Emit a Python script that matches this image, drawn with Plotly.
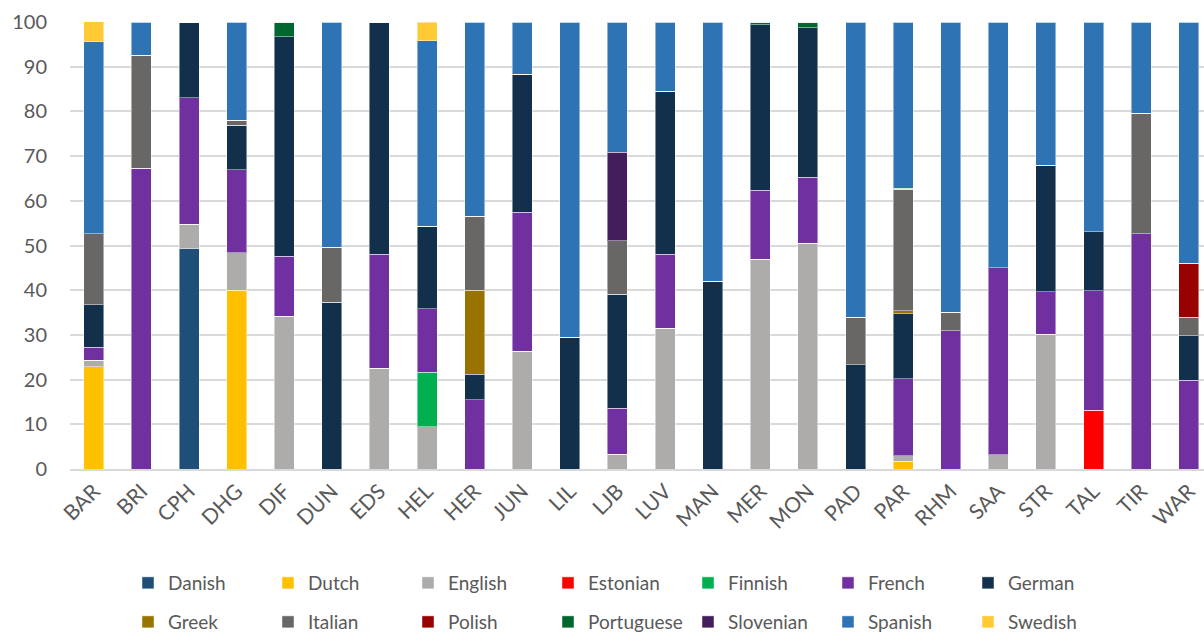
import plotly.graph_objects as go

sites = ["BAR","BRI","CPH","DHG","DIF","DUN","EDS","HEL","HER","JUN","LIL","LJB","LUV",
         "MAN","MER","MON","PAD","PAR","RHM","SAA","STR","TAL","TIR","WAR"]

danish     = [0,0,49.3,0,0,0,0,0,0,0,0,0,0,0,0,0,0,0,0,0,0,0,0,0]
dutch      = [22.9,0,0,40.0,0,0,0,0,0,0,0,0,0,0,0,0,0,1.7,0,0,0,0,0,0]
english    = [1.4,0,5.5,8.4,34.2,0,22.5,9.4,0,26.3,0,3.3,31.5,0,46.9,50.5,0,1.3,0,3.2,30.1,0,0,0]
estonian   = [0,0,0,0,0,0,0,0,0,0,0,0,0,0,0,0,0,0,0,0,0,13.2,0,0]
finnish    = [0,0,0,0,0,0,0,12.2,0,0,0,0,0,0,0,0,0,0,0,0,0,0,0,0]
french     = [2.9,67.3,28.2,18.5,13.4,0,25.5,14.3,15.5,31.1,0,10.3,16.5,0,15.5,14.8,0,17.2,30.9,41.8,9.6,26.7,52.6,19.9]
german     = [9.6,0,17.0,10.0,49.1,37.3,52.0,18.4,5.7,30.9,29.5,25.5,36.5,42.0,37.0,33.4,23.3,14.5,0,0,28.2,13.2,0,9.9]
greek      = [0,0,0,0,0,0,0,0,18.8,0,0,0,0,0,0,0,0,0.7,0,0,0,0,0,0]
italian    = [15.8,25.3,0,1.1,0,12.3,0,0,16.6,0,0,12.0,0,0,0,0,10.6,27.2,4.2,0,0,0,27.0,4.1]
polish     = [0,0,0,0,0,0,0,0,0,0,0,0,0,0,0,0,0,0,0,0,0,0,0,12.1]
portuguese = [0,0,0,0,3.3,0,0,0,0,0,0,0,0,0,0.6,1.3,0,0.2,0,0,0,0,0,0]
slovenian  = [0,0,0,0,0,0,0,0,0,0,0,19.8,0,0,0,0,0,0,0,0,0,0,0,0]
spanish    = [43.0,7.4,0,22.0,0,50.4,0,41.5,43.4,11.7,70.5,29.1,15.5,58.0,0,0,66.1,37.2,64.9,55.0,32.1,46.9,20.4,54.0]
swedish    = [4.5,0,0,0,0,0,0,4.2,0,0,0,0,0,0,0,0,0,0,0,0,0,0,0,0]

series = [
    ("Danish", danish, "#1F4E79"),
    ("Dutch", dutch, "#FFC000"),
    ("English", english, "#ADACAB"),
    ("Estonian", estonian, "#FF0000"),
    ("Finnish", finnish, "#00B050"),
    ("French", french, "#7030A0"),
    ("German", german, "#12304B"),
    ("Greek", greek, "#997300"),
    ("Italian", italian, "#686766"),
    ("Polish", polish, "#990000"),
    ("Portuguese", portuguese, "#00682F"),
    ("Slovenian", slovenian, "#441D5C"),
    ("Spanish", spanish, "#2E74B5"),
    ("Swedish", swedish, "#FFCA33"),
]

FONT = "Lato, 'Open Sans', sans-serif"
L, PW, T, PH = 70, 1134, 22, 448

fig = go.Figure()
legends = {}
for i, (name, vals, col) in enumerate(series):
    key = "legend" if i == 0 else f"legend{i + 1}"
    fig.add_trace(go.Bar(
        name=name, x=sites, y=vals,
        marker=dict(color=col, line=dict(color="rgba(255,255,255,0.45)", width=1)),
        legend=key,
    ))
    row, colidx = divmod(i, 7)
    px_x = 128 + 140 * colidx
    px_y = 583 if row == 0 else 623
    legends[key] = dict(
        x=(px_x - L) / PW, y=(T + PH - px_y) / PH,
        xanchor="left", yanchor="middle", orientation="h",
        font=dict(family=FONT, size=19, color="#595959"),
        itemwidth=30, bgcolor="rgba(0,0,0,0)", borderwidth=0,
    )

fig.update_layout(
    width=1204, height=641,
    barmode="stack", bargap=0.58,
    paper_bgcolor="white", plot_bgcolor="white",
    margin=dict(l=L, r=0, t=T, b=641 - T - PH),
    showlegend=True,
    xaxis=dict(range=[-0.5, 23.32], tickangle=-45, automargin=False,
               tickfont=dict(family=FONT, size=21, color="#595959"),
               showgrid=False, linecolor="#D9D9D9", linewidth=1.5, ticks=""),
    yaxis=dict(range=[0, 100], dtick=10, showgrid=True, gridcolor="#D9D9D9", gridwidth=1.5,
               tickfont=dict(family=FONT, size=20, color="#595959"), automargin=False,
               zeroline=False, ticks="", ticklabelstandoff=22),
    **legends,
)

fig.write_html("out.html", config={"displayModeBar": False},
               post_script="document.body.style.margin='0';document.body.style.overflow='hidden';")
